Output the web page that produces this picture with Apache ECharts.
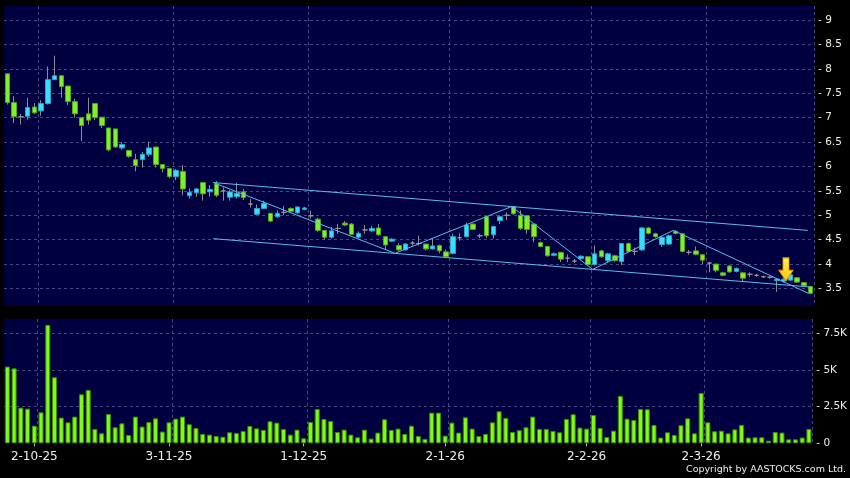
<!DOCTYPE html>
<html><head><meta charset="utf-8">
<script src="https://cdn.jsdelivr.net/npm/echarts@6/dist/echarts.min.js"></script>
<style>html,body{margin:0;padding:0;background:#000;}#c{width:850px;height:478px;}</style>
</head><body><div id="c"></div>
<script>
// ---- data ----
const dates = [
'25-9-25','26-9-25','29-9-25','30-9-25',
'2-10-25','3-10-25','6-10-25','8-10-25','9-10-25','10-10-25','13-10-25','14-10-25','15-10-25','16-10-25','17-10-25','20-10-25','21-10-25','22-10-25','23-10-25','24-10-25','27-10-25','28-10-25','30-10-25','31-10-25',
'3-11-25','4-11-25','5-11-25','6-11-25','7-11-25','10-11-25','11-11-25','12-11-25','13-11-25','14-11-25','17-11-25','18-11-25','19-11-25','20-11-25','21-11-25','24-11-25','25-11-25','26-11-25','27-11-25','28-11-25',
'1-12-25','2-12-25','3-12-25','4-12-25','5-12-25','8-12-25','9-12-25','10-12-25','11-12-25','12-12-25','15-12-25','16-12-25','17-12-25','18-12-25','19-12-25','22-12-25','23-12-25','24-12-25','29-12-25','30-12-25','31-12-25',
'2-1-26','5-1-26','6-1-26','7-1-26','8-1-26','9-1-26','12-1-26','13-1-26','14-1-26','15-1-26','16-1-26','19-1-26','20-1-26','21-1-26','22-1-26','23-1-26','26-1-26','27-1-26','28-1-26','29-1-26','30-1-26',
'2-2-26','3-2-26','4-2-26','5-2-26','6-2-26','9-2-26','10-2-26','11-2-26','12-2-26','13-2-26','16-2-26','20-2-26','23-2-26','24-2-26','25-2-26','26-2-26','27-2-26',
'2-3-26','3-3-26','4-3-26','5-3-26','6-3-26','9-3-26','10-3-26','11-3-26','12-3-26','13-3-26','16-3-26','17-3-26','18-3-26','19-3-26','20-3-26','23-3-26','24-3-26'
];
const open = [7.90,7.31,7.02,7.03,7.22,7.14,7.29,7.78,7.86,7.65,7.33,7.00,7.08,7.29,7.01,6.79,6.77,6.38,6.33,6.14,
6.14,6.25,6.40,6.04,5.96,5.79,5.90,5.40,5.46,5.67,5.48,5.64,5.50,5.37,5.38,5.48,5.23,5.02,5.14,5.04,
4.97,5.06,5.14,5.05,5.12,4.99,4.92,4.69,4.55,4.73,4.84,4.82,4.55,4.70,4.68,4.74,4.56,4.47,4.38,4.29,
4.43,4.42,4.41,4.31,4.38,4.25,4.22,4.54,4.56,4.82,4.58,4.97,4.60,4.89,5.00,5.18,5.00,4.99,4.82,4.44,
4.36,4.18,4.24,4.12,4.06,4.11,4.15,3.99,4.27,4.07,4.17,4.05,4.42,4.26,4.29,4.74,4.62,4.40,4.41,4.67,
4.62,4.24,4.27,4.19,4.02,4.00,3.82,3.96,3.85,3.82,3.79,3.77,3.74,3.73,3.66,3.65,3.67,3.72,3.62,3.54];
const close = [7.31,7.02,7.02,7.21,7.10,7.29,7.78,7.86,7.64,7.33,7.08,6.84,6.95,7.00,6.84,6.34,6.40,6.45,6.21,6.02,
6.25,6.38,6.04,5.96,5.79,5.92,5.54,5.47,5.54,5.44,5.53,5.41,5.50,5.48,5.45,5.36,5.23,5.14,5.24,4.88,
5.04,5.06,5.08,5.17,5.15,4.99,4.69,4.55,4.68,4.73,4.80,4.61,4.63,4.70,4.73,4.60,4.39,4.51,4.29,4.41,
4.43,4.42,4.31,4.37,4.27,4.15,4.56,4.54,4.80,4.71,4.58,4.58,4.77,4.97,5.00,5.03,4.73,4.71,4.56,4.36,
4.17,4.21,4.10,4.12,4.06,4.16,3.99,4.21,4.15,4.21,4.07,4.42,4.26,4.26,4.74,4.63,4.56,4.55,4.58,4.63,
4.26,4.24,4.20,4.08,4.02,3.87,3.77,3.84,3.91,3.71,3.79,3.77,3.74,3.73,3.69,3.69,3.78,3.63,3.56,3.40];
const low = [7.27,6.89,6.86,6.96,7.08,7.04,7.27,7.78,7.41,7.26,7.00,6.52,6.86,6.95,6.79,6.31,6.38,6.34,6.18,5.90,
5.98,6.20,5.98,5.88,5.76,5.72,5.41,5.34,5.38,5.30,5.38,5.37,5.30,5.30,5.34,5.31,5.16,5.02,5.13,4.86,
4.95,5.00,5.05,5.03,5.10,4.93,4.66,4.50,4.52,4.62,4.78,4.60,4.53,4.62,4.66,4.58,4.29,4.45,4.27,4.28,
4.38,4.38,4.28,4.30,4.22,4.12,4.20,4.48,4.55,4.70,4.53,4.53,4.52,4.82,4.90,5.01,4.70,4.62,4.45,4.34,
4.15,4.16,4.04,4.04,4.02,4.08,3.96,3.97,4.13,4.03,4.05,3.98,4.24,4.18,4.27,4.61,4.54,4.35,4.39,4.61,
4.24,4.19,4.18,4.00,3.83,3.83,3.75,3.82,3.83,3.65,3.73,3.74,3.72,3.70,3.43,3.62,3.66,3.61,3.54,3.38];
const high = [7.90,7.44,7.08,7.41,7.30,7.36,8.05,8.27,7.86,7.65,7.39,7.00,7.41,7.29,7.01,6.79,6.77,6.50,6.33,6.26,
6.30,6.51,6.40,6.04,5.96,5.95,6.03,5.55,5.56,5.67,5.62,5.70,5.57,5.52,5.67,5.54,5.33,5.22,5.30,5.04,
5.10,5.19,5.16,5.18,5.17,5.09,4.95,4.70,4.76,4.82,4.88,4.84,4.67,4.80,4.78,4.82,4.56,4.53,4.43,4.43,
4.47,4.58,4.41,4.53,4.40,4.30,4.62,4.63,4.85,4.83,4.62,4.97,4.78,5.00,5.06,5.18,5.10,4.99,4.82,4.46,
4.36,4.24,4.24,4.20,4.10,4.18,4.16,4.38,4.29,4.23,4.19,4.43,4.44,4.34,4.76,4.76,4.64,4.57,4.60,4.69,
4.64,4.29,4.36,4.20,4.04,4.00,3.84,3.98,3.93,3.84,3.83,3.80,3.76,3.75,3.70,3.71,3.79,3.73,3.63,3.55];
const volume = [5230,5110,2430,2360,1200,2110,8070,4500,1750,1430,1820,3340,3640,980,680,2000,1090,1360,570,1820,
1140,1450,1700,800,1430,1680,1820,1300,1050,640,590,500,450,750,700,840,1180,1020,910,1500,
1410,980,590,930,340,1450,2340,1660,1520,770,930,590,410,930,320,730,1640,910,1000,640,
1200,500,300,2090,2090,520,1410,730,1770,1000,500,640,1430,2180,1730,770,890,1090,1820,980,
980,840,750,1660,1980,1070,1000,1930,1050,430,860,3230,1680,1590,2340,2320,1250,390,750,570,
1230,1700,680,3430,1430,820,860,680,950,1250,390,410,410,180,770,730,270,270,390,980];
const labelDates = ['2-10-25','3-11-25','1-12-25','2-1-26','2-2-26','2-3-26'];
// trend lines: [category position, price]
const upperChannel = [[30.5,5.67],[118.57,4.69]];
const lowerChannel = [[30.5,4.52],[118.9,3.53]];
const zigzag = [[30.5,5.67],[57.43,4.22],[74.71,5.18],[86.71,3.89],[98.66,4.69],[118.66,3.40]];
const arrowPoint = [[115.35,3.89]];

// ---- chart ----
const labelIdx = dates.map((d,i)=>labelDates.includes(d)?i:-1).filter(i=>i>=0);
const gridIdx = labelIdx.map(i=>i+1);
const FONT = 'DejaVu Sans';
const gridColor = '#48487e';
const navy = '#000040';
const wickColor = '#8d8d8d';

const chart = echarts.init(document.getElementById('c'), null, {renderer:'canvas'});
const candleBodies = dates.map((d,i)=>[open[i], close[i], Math.min(open[i],close[i]), Math.max(open[i],close[i])]);
const candleWicks = dates.map((d,i)=>[low[i], low[i], low[i], high[i]]);

chart.setOption({
  backgroundColor:'#000',
  animation:false,
  grid:[
    {left:4, right:36, top:6, height:300, show:true, backgroundColor:navy, borderWidth:0},
    {left:4, right:36, top:319, height:124.3, show:true, backgroundColor:navy, borderWidth:0}
  ],
  xAxis:[
    {type:'category', gridIndex:0, data:dates, boundaryGap:true,
     axisLine:{show:false}, axisTick:{show:false}, axisLabel:{show:false},
     splitLine:{show:true, interval:(i)=>gridIdx.includes(i), lineStyle:{color:gridColor, type:[3,3], width:1}}},
    {type:'category', gridIndex:1, data:dates, boundaryGap:true,
     axisLine:{show:false},
     axisTick:{show:true, alignWithLabel:true, interval:(i)=>labelIdx.includes(i), length:3, lineStyle:{color:'#bbb'}},
     axisLabel:{show:true, interval:(i)=>labelIdx.includes(i), color:'#eee', fontFamily:FONT, fontSize:12, margin:8},
     splitLine:{show:true, interval:(i)=>gridIdx.includes(i), lineStyle:{color:gridColor, type:[3,3], width:1}}},
    {type:'value', gridIndex:0, min:-0.5, max:dates.length-0.5, show:false}
  ],
  yAxis:[
    {type:'value', gridIndex:0, position:'right', min:3.14, max:9.29, splitNumber:12,
     axisLine:{show:false}, axisTick:{show:false},
     axisLabel:{showMinLabel:false, showMaxLabel:false, color:'#eee', fontFamily:FONT, fontSize:10.5, margin:4, formatter:(v)=>'- '+v},
     splitLine:{show:true, showMinLine:false, showMaxLine:false, lineStyle:{color:gridColor, type:[3,3], width:1}}},
    {type:'value', gridIndex:1, position:'right', min:0, max:8470, interval:2500,
     axisLine:{show:false}, axisTick:{show:false},
     axisLabel:{showMaxLabel:false, color:'#eee', fontFamily:FONT, fontSize:10.5, margin:4,
       formatter:(v)=>'- '+(v===0?'0':(v/1000)+'K')},
     splitLine:{show:true, showMinLine:false, showMaxLine:false, lineStyle:{color:gridColor, type:[3,3], width:1}}}
  ],
  series:[
    {type:'candlestick', xAxisIndex:0, yAxisIndex:0, data:candleWicks, barWidth:1, z:2,
     itemStyle:{color:wickColor, color0:wickColor, borderColor:wickColor, borderColor0:wickColor, borderColorDoji:wickColor, borderWidth:1}},
    {type:'candlestick', xAxisIndex:0, yAxisIndex:0, data:candleBodies, barWidth:5, z:3,
     itemStyle:{color:'#35e0ff', color0:'#80f02a', borderColor:'#2aa6c4', borderColor0:'#4ea818', borderColorDoji:'#9a9a9a', borderWidth:1}},
    {type:'bar', xAxisIndex:1, yAxisIndex:1, data:volume, barWidth:5,
     itemStyle:{color:'#7efc14', borderColor:'#3d8a06', borderWidth:1}},
    {type:'line', xAxisIndex:2, yAxisIndex:0, data:upperChannel, symbol:'none', z:4, lineStyle:{color:'#5cbcec', width:1}},
    {type:'line', xAxisIndex:2, yAxisIndex:0, data:lowerChannel, symbol:'none', z:4, lineStyle:{color:'#5cbcec', width:1}},
    {type:'line', xAxisIndex:2, yAxisIndex:0, data:zigzag, symbol:'none', z:4, lineStyle:{color:'#5cbcec', width:1}},
    {type:'scatter', xAxisIndex:2, yAxisIndex:0, data:arrowPoint, z:10,
     symbol:'path://M4,0 L10,0 L10,12 L14,12 L7,22 L0,12 L4,12 Z', symbolSize:[14,23],
     itemStyle:{opacity:1, color:new echarts.graphic.LinearGradient(0,0,0,1,[{offset:0,color:'#fff45a'},{offset:1,color:'#ffc400'}]), borderColor:'#e09a00', borderWidth:1}}
  ],
  graphic:[
    {type:'text', right:4, top:465, style:{text:'Copyright by AASTOCKS.com Ltd.', fill:'#eee', font:'9.5px "DejaVu Sans"'}}
  ]
});
</script></body></html>
